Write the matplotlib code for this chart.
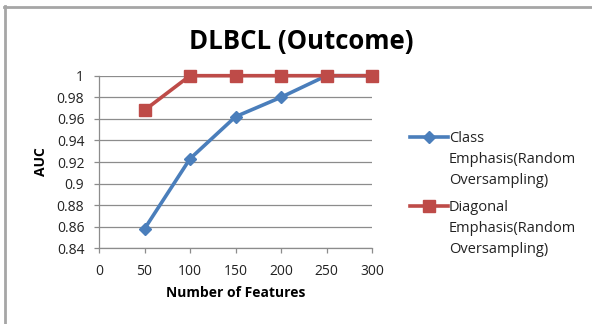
import matplotlib
matplotlib.use("Agg")
import matplotlib.pyplot as plt
from matplotlib.lines import Line2D

plt.rcParams['font.family'] = ['Open Sans', 'DejaVu Sans']

features = [50, 100, 150, 200, 250, 300]
class_emphasis = [0.858, 0.923, 0.962, 0.980, 1.0, 1.0]
diagonal_emphasis = [0.968, 1.0, 1.0, 1.0, 1.0, 1.0]
series_labels = ["Class\nEmphasis(Random\nOversampling)",
                 "Diagonal\nEmphasis(Random\nOversampling)"]
x_ticks = [0, 50, 100, 150, 200, 250, 300]
y_ticks = [0.84, 0.86, 0.88, 0.9, 0.92, 0.94, 0.96, 0.98, 1.0]
y_tick_labels = ["0.84", "0.86", "0.88", "0.9", "0.92", "0.94", "0.96", "0.98", "1"]

blue = "#4a7ebb"
red = "#be4b48"
grid_gray = "#8c8c8c"

W, H = 592, 324
fig = plt.figure(figsize=(W / 100, H / 100), dpi=100)
fig.patch.set_facecolor("white")

# outer chart frame (top and left edges)
fig.add_artist(Line2D([5 / W, 5 / W], [0, 1 - 6 / H], transform=fig.transFigure,
                      color="#a6a6a6", lw=2))
fig.add_artist(Line2D([4 / W, 1], [1 - 7 / H, 1 - 7 / H], transform=fig.transFigure,
                      color="#a6a6a6", lw=2))

ax = fig.add_axes([99 / W, 1 - 248.3 / H, (372 - 99) / W, (248.3 - 75.7) / H])
ax.plot(features, class_emphasis, color=blue, lw=2.6, marker="D", ms=6,
        markerfacecolor=blue, markeredgecolor=blue, zorder=3, clip_on=False)
ax.plot(features, diagonal_emphasis, color=red, lw=2.6, marker="s", ms=8.5,
        markerfacecolor=red, markeredgecolor=red, zorder=4, clip_on=False)

ax.set_xlim(0, 300)
ax.set_ylim(0.84, 1.0)
ax.set_xticks(x_ticks)
ax.set_yticks(y_ticks)
ax.set_yticklabels(y_tick_labels)
ax.grid(axis="y", color=grid_gray, lw=0.9)
ax.set_axisbelow(True)
for s in ["top", "right"]:
    ax.spines[s].set_visible(False)
for s in ["left", "bottom"]:
    ax.spines[s].set_color(grid_gray)
    ax.spines[s].set_linewidth(0.9)
ax.tick_params(axis="both", colors=grid_gray, length=3.6, width=0.9,
               labelcolor="#222222", labelsize=10)
ax.tick_params(axis="y", pad=7)
ax.tick_params(axis="x", pad=8)
ax.set_xlabel("Number of Features", fontsize=10, fontweight="bold", labelpad=5)
ax.set_ylabel("AUC", fontsize=10, fontweight="bold", labelpad=6)

fig.text(301 / W, 1 - 41 / H, "DLBCL (Outcome)", ha="center", va="center",
         fontsize=18.5, fontweight="bold")

# legend entries: handle aligned with the first line of each label
for (ys, color, marker, ms, label) in [
    (136.7, blue, "D", 6, series_labels[0]),
    (206.0, red, "s", 8.5, series_labels[1]),
]:
    yf = 1 - ys / H
    fig.add_artist(Line2D([410 / W, 429 / W, 448 / W], [yf, yf, yf],
                          transform=fig.transFigure, color=color, lw=2.6,
                          marker=marker, ms=ms, markevery=[1],
                          markerfacecolor=color, markeredgecolor=color))
    fig.text(449 / W, 1 - (ys - 6) / H, label, ha="left", va="top",
             fontsize=10.5, linespacing=1.55, color="#222222")

fig.savefig("out.png", dpi=100)
